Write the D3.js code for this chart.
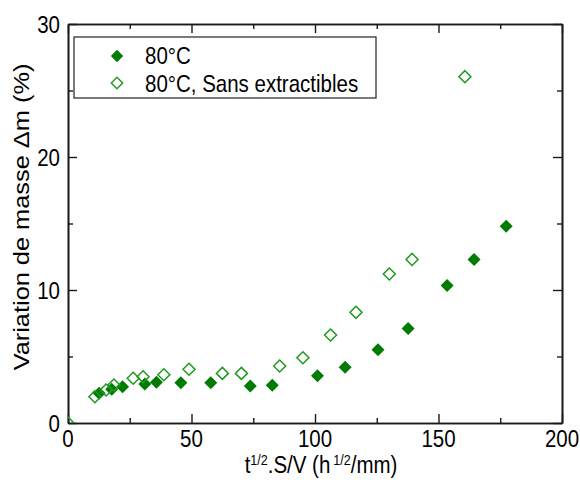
<!DOCTYPE html>
<html>
<head>
<meta charset="utf-8">
<script src="https://cdn.jsdelivr.net/npm/d3@7"></script>
<style>
  html, body { margin: 0; padding: 0; background: #fff; }
  svg { display: block; }
  text { font-family: "Liberation Sans", Arial, sans-serif; fill: #000; }
</style>
</head>
<body>
<svg id="chart" width="580" height="480"></svg>
<script>
// ---- data ----
const filledX = [12.6, 17.7, 22.1, 31.1, 35.8, 45.7, 57.8, 73.8, 82.7, 101, 112.2, 125.5, 137.7, 153.5, 164.4, 177.4];
const filledY = [2.23, 2.53, 2.73, 2.93, 3.06, 3.03, 3.03, 2.78, 2.83, 3.56, 4.19, 5.51, 7.1, 10.33, 12.3, 14.8];
const openX = [0, 10.9, 15.4, 18.6, 26.4, 30.4, 38.8, 49.0, 62.5, 70.2, 85.7, 95.1, 106.3, 116.6, 130.1, 139.3, 160.7];
const openY = [0, 1.98, 2.48, 2.86, 3.36, 3.48, 3.63, 4.04, 3.73, 3.73, 4.29, 4.91, 6.62, 8.32, 11.2, 12.3, 26.04];
const seriesNames = ["80°C", "80°C, Sans extractibles"];
const xMajorTicks = [0, 50, 100, 150, 200];
const xMinorTicks = [25, 75, 125, 175];
const yMajorTicks = [0, 10, 20, 30];
const yMinorTicks = [5, 15, 25];

// ---- layout ----
const svg = d3.select("#chart");
const L = 68, R = 562, T = 24, B = 423;
const x = d3.scaleLinear().domain([0, 200]).range([L, R]);
const y = d3.scaleLinear().domain([0, 30]).range([B, T]);
const SY = 1.18; // vertical stretch of text in the reference
const FS = 20.5;
const filledColor = "#007c00";
const openColor = "#1f9a1f";

function stext(g, px, py, str, anchor, size, rot) {
  const t = g.append("text")
    .attr("transform", `translate(${px},${py}) scale(1,${SY})` + (rot ? ` rotate(${rot})` : ""))
    .attr("text-anchor", anchor || "start")
    .style("font-size", (size || FS) + "px");
  if (str !== null) t.text(str);
  return t;
}

function diamond(cx, cy, r) {
  return `M${cx},${cy - r}L${cx + r},${cy}L${cx},${cy + r}L${cx - r},${cy}Z`;
}

// clip
svg.append("defs").append("clipPath").attr("id", "plotclip")
  .append("rect").attr("x", L).attr("y", T).attr("width", R - L).attr("height", B - T);

// ---- axes (ticks inward on all four sides) ----
const axisStyle = g => g.call(s => s.select(".domain").attr("stroke", "#1a1a1a").attr("stroke-width", 1.6))
  .call(s => s.selectAll(".tick line").attr("stroke", "#1a1a1a").attr("stroke-width", 1.4));

function addAxis(axisFn, scale, values, size, tr) {
  svg.append("g").attr("transform", tr)
    .call(axisFn(scale).tickValues(values).tickSizeInner(-size).tickSizeOuter(0).tickFormat(""))
    .call(axisStyle);
}
addAxis(d3.axisBottom, x, xMajorTicks, 9, `translate(0,${B})`);
addAxis(d3.axisBottom, x, xMinorTicks, 5, `translate(0,${B})`);
addAxis(d3.axisTop, x, xMajorTicks, 9, `translate(0,${T})`);
addAxis(d3.axisTop, x, xMinorTicks, 5, `translate(0,${T})`);
addAxis(d3.axisLeft, y, yMajorTicks, 9, `translate(${L},0)`);
addAxis(d3.axisLeft, y, yMinorTicks, 5, `translate(${L},0)`);
addAxis(d3.axisRight, y, yMajorTicks, 9, `translate(${R},0)`);
addAxis(d3.axisRight, y, yMinorTicks, 5, `translate(${R},0)`);

// tick labels
xMajorTicks.forEach(v => stext(svg, x(v), 447, String(v), "middle"));
yMajorTicks.forEach(v => stext(svg, 60, y(v) + 8.5, String(v), "end"));

// axis titles
const xt = stext(svg, 321, 473, null, "middle");
xt.append("tspan").text("t");
xt.append("tspan").attr("dy", -7).style("font-size", "12.5px").text("1/2");
xt.append("tspan").attr("dy", 7).text(".S/V (h");
xt.append("tspan").attr("dy", -7).attr("dx", 3).style("font-size", "12.5px").text("1/2");
xt.append("tspan").attr("dy", 7).text("/mm)");

stext(svg, 29, 217, "Variation de masse  Δm (%)", "middle", 21.5, -90);

// ---- points ----
const plot = svg.append("g").attr("clip-path", "url(#plotclip)");
const filledData = filledX.map((v, i) => [v, filledY[i]]);
const openData = openX.map((v, i) => [v, openY[i]]);

plot.selectAll("path.filled").data(filledData).enter().append("path")
  .attr("class", "filled")
  .attr("d", d => diamond(x(d[0]), y(d[1]), 6.5))
  .attr("fill", filledColor);

plot.selectAll("path.open").data(openData).enter().append("path")
  .attr("class", "open")
  .attr("d", d => diamond(x(d[0]), y(d[1]), 6))
  .attr("fill", "none")
  .attr("stroke", openColor)
  .attr("stroke-width", 1.5);

// ---- legend ----
const lg = svg.append("g");
lg.append("rect").attr("x", 74).attr("y", 37).attr("width", 302).attr("height", 61)
  .attr("fill", "#fff").attr("stroke", "#222").attr("stroke-width", 1.2);
lg.append("path").attr("d", diamond(117, 56, 6.2)).attr("fill", filledColor);
lg.append("path").attr("d", diamond(117, 83, 5.7)).attr("fill", "none")
  .attr("stroke", openColor).attr("stroke-width", 1.4);
stext(lg, 145, 64, seriesNames[0], "start");
stext(lg, 145, 91.5, seriesNames[1], "start");
</script>
</body>
</html>
